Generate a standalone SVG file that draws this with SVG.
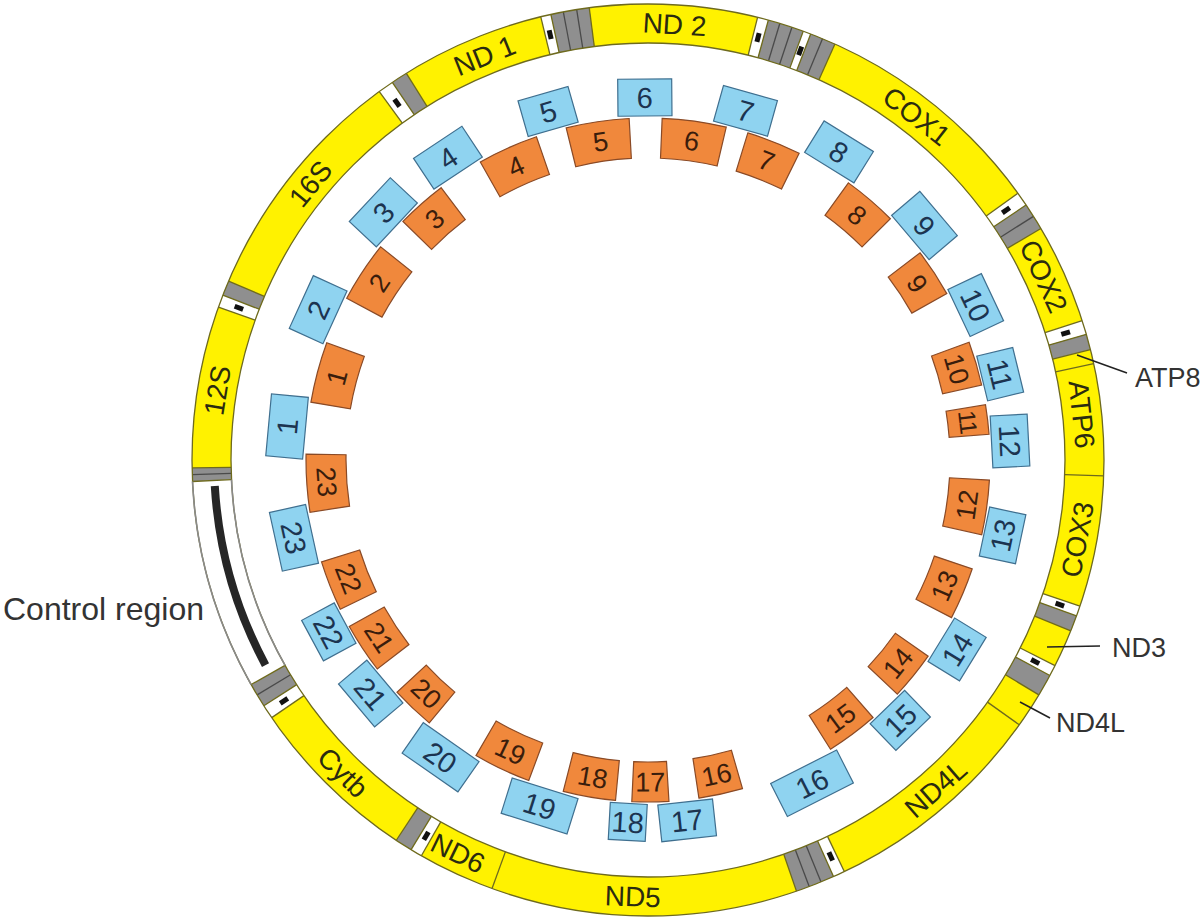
<svg xmlns="http://www.w3.org/2000/svg" width="1200" height="918" viewBox="0 0 1200 918">
<style>
.yl{fill:none;stroke:#fff200;stroke-width:39}
.gr{fill:none;stroke:#8f8f8f;stroke-width:39}
.wh{fill:none;stroke:#ffffff;stroke-width:39}
.ol{fill:none;stroke:#6e6a1e;stroke-width:1.3}
.cl{fill:none;stroke:#8a8a8a;stroke-width:1.6}
.dv{stroke:#6e6a1e;stroke-width:1.3}
.sp{stroke:#4a4a4a;stroke-width:1.3}
.bk{fill:#111111}
.b{fill:#8fd3f0;stroke:#3f6f8f;stroke-width:1.2}
.o{fill:#f0883c;stroke:#8a4a26;stroke-width:1.2}
.bt{font-family:'Liberation Sans',Arial,sans-serif;font-size:29px;fill:#1c3450;text-anchor:middle}
.ot{font-family:'Liberation Sans',Arial,sans-serif;font-size:27px;fill:#3a1d0c;text-anchor:middle}
.gt{font-family:'Liberation Sans',Arial,sans-serif;font-size:28px;fill:#2b2b10;text-anchor:middle}
.lb{font-family:'Liberation Sans',Arial,sans-serif;font-size:27px;fill:#333333}
.ld{stroke:#222222;stroke-width:1.5}
</style>
<defs>
<path id="o28" class="o" d="M633.13 118.32 A342 342 0 0 1 662.87 118.32 L661.13 158.29 A302 302 0 0 0 634.87 158.29 Z"/>
<path id="o35" class="o" d="M629.42 118.51 A342 342 0 0 1 666.58 118.51 L664.40 158.45 A302 302 0 0 0 631.60 158.45 Z"/>
<path id="o42" class="o" d="M625.71 118.73 A342 342 0 0 1 670.29 118.73 L667.68 158.64 A302 302 0 0 0 628.32 158.64 Z"/>
<path id="o46" class="o" d="M623.59 118.87 A342 342 0 0 1 672.41 118.87 L669.55 158.77 A302 302 0 0 0 626.45 158.77 Z"/>
<path id="o48" class="o" d="M622.53 118.95 A342 342 0 0 1 673.47 118.95 L670.49 158.84 A302 302 0 0 0 625.51 158.84 Z"/>
<path id="o50" class="o" d="M621.47 119.03 A342 342 0 0 1 674.53 119.03 L671.42 158.91 A302 302 0 0 0 624.58 158.91 Z"/>
<path id="o52" class="o" d="M620.41 119.12 A342 342 0 0 1 675.59 119.12 L672.36 158.98 A302 302 0 0 0 623.64 158.98 Z"/>
<path id="o55" class="o" d="M618.83 119.25 A342 342 0 0 1 677.17 119.25 L673.76 159.10 A302 302 0 0 0 622.24 159.10 Z"/>
<path id="o58" class="o" d="M617.24 119.39 A342 342 0 0 1 678.76 119.39 L675.16 159.22 A302 302 0 0 0 620.84 159.22 Z"/>
<path id="o60" class="o" d="M616.18 119.48 A342 342 0 0 1 679.82 119.48 L676.10 159.31 A302 302 0 0 0 619.90 159.31 Z"/>
<path id="o61" class="o" d="M615.65 119.53 A342 342 0 0 1 680.35 119.53 L676.56 159.35 A302 302 0 0 0 619.44 159.35 Z"/>
<rect id="mk" class="bk" x="645.5" y="19" width="5" height="9"/>
<line id="dl" class="dv" x1="648" y1="4" x2="648" y2="43"/>
<line id="sl" class="sp" x1="648" y1="4" x2="648" y2="43"/>
</defs>
<rect width="1200" height="918" fill="#ffffff"/>

<g id="ring">
<circle class="yl" cx="648" cy="460" r="436.5"/>
<circle class="gr" cx="648" cy="460" r="436.5" stroke-dasharray="12.95 3000" transform="rotate(177.3 648 460)"/>
<circle class="wh" cx="648" cy="460" r="436.5" stroke-dasharray="12.19 3000" transform="rotate(199.6 648 460)"/>
<circle class="gr" cx="648" cy="460" r="436.5" stroke-dasharray="14.47 3000" transform="rotate(201.2 648 460)"/>
<circle class="wh" cx="648" cy="460" r="436.5" stroke-dasharray="15.24 3000" transform="rotate(233.9 648 460)"/>
<circle class="gr" cx="648" cy="460" r="436.5" stroke-dasharray="16 3000" transform="rotate(235.9 648 460)"/>
<circle class="wh" cx="648" cy="460" r="436.5" stroke-dasharray="9.9 3000" transform="rotate(256.4 648 460)"/>
<circle class="gr" cx="648" cy="460" r="436.5" stroke-dasharray="37.33 3000" transform="rotate(257.7 648 460)"/>
<circle class="wh" cx="648" cy="460" r="436.5" stroke-dasharray="10.67 3000" transform="rotate(-76.1 648 460)"/>
<circle class="gr" cx="648" cy="460" r="436.5" stroke-dasharray="35.04 3000" transform="rotate(-74.7 648 460)"/>
<circle class="wh" cx="648" cy="460" r="436.5" stroke-dasharray="7.62 3000" transform="rotate(-70.1 648 460)"/>
<circle class="gr" cx="648" cy="460" r="436.5" stroke-dasharray="25.14 3000" transform="rotate(-69.1 648 460)"/>
<circle class="wh" cx="648" cy="460" r="436.5" stroke-dasharray="13.71 3000" transform="rotate(-35.8 648 460)"/>
<circle class="gr" cx="648" cy="460" r="436.5" stroke-dasharray="26.66 3000" transform="rotate(-34 648 460)"/>
<circle class="wh" cx="648" cy="460" r="436.5" stroke-dasharray="13.71 3000" transform="rotate(-17.8 648 460)"/>
<circle class="gr" cx="648" cy="460" r="436.5" stroke-dasharray="15.24 3000" transform="rotate(-16 648 460)"/>
<circle class="wh" cx="648" cy="460" r="436.5" stroke-dasharray="9.9 3000" transform="rotate(18.7 648 460)"/>
<circle class="gr" cx="648" cy="460" r="436.5" stroke-dasharray="15.24 3000" transform="rotate(20 648 460)"/>
<circle class="wh" cx="648" cy="460" r="436.5" stroke-dasharray="10.67 3000" transform="rotate(26.8 648 460)"/>
<circle class="gr" cx="648" cy="460" r="436.5" stroke-dasharray="21.33 3000" transform="rotate(28.2 648 460)"/>
<circle class="wh" cx="648" cy="460" r="436.5" stroke-dasharray="11.43 3000" transform="rotate(64.5 648 460)"/>
<circle class="gr" cx="648" cy="460" r="436.5" stroke-dasharray="38.09 3000" transform="rotate(66 648 460)"/>
<circle class="wh" cx="648" cy="460" r="436.5" stroke-dasharray="11.43 3000" transform="rotate(119.8 648 460)"/>
<circle class="gr" cx="648" cy="460" r="436.5" stroke-dasharray="16.76 3000" transform="rotate(121.3 648 460)"/>
<circle class="wh" cx="648" cy="460" r="436.5" stroke-dasharray="13.71 3000" transform="rotate(145.6 648 460)"/>
<circle class="gr" cx="648" cy="460" r="436.5" stroke-dasharray="23.62 3000" transform="rotate(147.4 648 460)"/>
<circle class="wh" cx="648" cy="460" r="436.5" stroke-dasharray="204.17 3000" transform="rotate(150.5 648 460)"/>
<circle fill="none" stroke="#262626" stroke-width="8" cx="648" cy="460" r="434" stroke-dasharray="187.5 3000" transform="rotate(151.8 648 460)"/>
<use href="#mk" transform="rotate(290.4 648 460)"/>
<use href="#mk" transform="rotate(324.9 648 460)"/>
<use href="#mk" transform="rotate(347.05 648 460)"/>
<use href="#mk" transform="rotate(14.6 648 460)"/>
<use href="#mk" transform="rotate(20.4 648 460)"/>
<use href="#mk" transform="rotate(55.1 648 460)"/>
<use href="#mk" transform="rotate(73.1 648 460)"/>
<use href="#mk" transform="rotate(109.35 648 460)"/>
<use href="#mk" transform="rotate(117.5 648 460)"/>
<use href="#mk" transform="rotate(155.25 648 460)"/>
<use href="#mk" transform="rotate(210.55 648 460)"/>
<use href="#mk" transform="rotate(236.5 648 460)"/>
<use href="#dl" transform="rotate(267.3 648 460)"/>
<use href="#dl" transform="rotate(269 648 460)"/>
<use href="#dl" transform="rotate(289.6 648 460)"/>
<use href="#dl" transform="rotate(291.2 648 460)"/>
<use href="#dl" transform="rotate(293.1 648 460)"/>
<use href="#dl" transform="rotate(323.9 648 460)"/>
<use href="#dl" transform="rotate(325.9 648 460)"/>
<use href="#dl" transform="rotate(328 648 460)"/>
<use href="#dl" transform="rotate(346.4 648 460)"/>
<use href="#dl" transform="rotate(347.7 648 460)"/>
<use href="#dl" transform="rotate(352.6 648 460)"/>
<use href="#dl" transform="rotate(13.9 648 460)"/>
<use href="#dl" transform="rotate(15.3 648 460)"/>
<use href="#dl" transform="rotate(19.9 648 460)"/>
<use href="#dl" transform="rotate(20.9 648 460)"/>
<use href="#dl" transform="rotate(24.2 648 460)"/>
<use href="#dl" transform="rotate(54.2 648 460)"/>
<use href="#dl" transform="rotate(56 648 460)"/>
<use href="#dl" transform="rotate(59.5 648 460)"/>
<use href="#dl" transform="rotate(72.2 648 460)"/>
<use href="#dl" transform="rotate(74 648 460)"/>
<use href="#dl" transform="rotate(76 648 460)"/>
<use href="#dl" transform="rotate(77.8 648 460)"/>
<use href="#dl" transform="rotate(92 648 460)"/>
<use href="#dl" transform="rotate(108.7 648 460)"/>
<use href="#dl" transform="rotate(110 648 460)"/>
<use href="#dl" transform="rotate(112 648 460)"/>
<use href="#dl" transform="rotate(116.8 648 460)"/>
<use href="#dl" transform="rotate(118.2 648 460)"/>
<use href="#dl" transform="rotate(121 648 460)"/>
<use href="#dl" transform="rotate(125.5 648 460)"/>
<use href="#dl" transform="rotate(154.5 648 460)"/>
<use href="#dl" transform="rotate(156 648 460)"/>
<use href="#dl" transform="rotate(161 648 460)"/>
<use href="#dl" transform="rotate(200 648 460)"/>
<use href="#dl" transform="rotate(209.8 648 460)"/>
<use href="#dl" transform="rotate(211.3 648 460)"/>
<use href="#dl" transform="rotate(213.5 648 460)"/>
<use href="#dl" transform="rotate(235.6 648 460)"/>
<use href="#dl" transform="rotate(237.4 648 460)"/>
<use href="#dl" transform="rotate(240.5 648 460)"/>
<use href="#sl" transform="rotate(268.15 648 460)"/>
<use href="#sl" transform="rotate(349.3 648 460)"/>
<use href="#sl" transform="rotate(351 648 460)"/>
<use href="#sl" transform="rotate(16.8 648 460)"/>
<use href="#sl" transform="rotate(18.4 648 460)"/>
<use href="#sl" transform="rotate(22.5 648 460)"/>
<use href="#sl" transform="rotate(57.7 648 460)"/>
<use href="#sl" transform="rotate(157.7 648 460)"/>
<use href="#sl" transform="rotate(159.3 648 460)"/>
<use href="#sl" transform="rotate(239 648 460)"/>
<circle class="ol" cx="648" cy="460" r="456"/>
<circle class="ol" cx="648" cy="460" r="417"/>
<circle class="cl" cx="648" cy="460" r="456" stroke-dasharray="213.29 3000" transform="rotate(150.5 648 460)"/>
<circle class="cl" cx="648" cy="460" r="417" stroke-dasharray="195.05 3000" transform="rotate(150.5 648 460)"/>
</g>

<g id="gene-12S"><text class="gt" x="648" y="33.5" transform="rotate(279.2 648 460)">12S</text></g>
<g id="gene-16S"><text class="gt" x="648" y="33.5" transform="rotate(309.3 648 460)">16S</text></g>
<g id="gene-ND1"><text class="gt" x="648" y="33.5" transform="rotate(338 648 460)">ND 1</text></g>
<g id="gene-ND2"><text class="gt" x="648" y="33.5" transform="rotate(3.5 648 460)">ND 2</text></g>
<g id="gene-COX1"><text class="gt" x="648" y="33.5" transform="rotate(38 648 460)">COX1</text></g>
<g id="gene-COX2"><text class="gt" x="648" y="33.5" transform="rotate(65.1 648 460)">COX2</text></g>
<g id="gene-ATP8"><text class="lb" x="1135" y="387">ATP8</text></g>
<g id="gene-ATP6"><text class="gt" x="648" y="33.5" transform="rotate(84 648 460)">ATP6</text></g>
<g id="gene-COX3"><text class="gt" x="648" y="33.5" transform="rotate(100.5 648 460) rotate(180 648 23.5)">COX3</text></g>
<g id="gene-ND3"><text class="lb" x="1112" y="657">ND3</text></g>
<g id="gene-ND4L-outer"><text class="lb" x="1056" y="732">ND4L</text></g>
<g id="gene-ND4L"><text class="gt" x="648" y="33.5" transform="rotate(138.8 648 460) rotate(180 648 23.5)">ND4L</text></g>
<g id="gene-ND5"><text class="gt" x="648" y="33.5" transform="rotate(182 648 460) rotate(180 648 23.5)">ND5</text></g>
<g id="gene-ND6"><text class="gt" x="648" y="33.5" transform="rotate(205.8 648 460) rotate(180 648 23.5)">ND6</text></g>
<g id="gene-Cytb"><text class="gt" x="648" y="33.5" transform="rotate(224.3 648 460) rotate(180 648 23.5)">Cytb</text></g>
<g id="control-region"><text class="lb" x="3" y="620" style="font-size:32px">Control region</text></g>

<g id="connectors">
<line class="ld" x1="1077" y1="355" x2="1127" y2="373"/>
<line class="ld" x1="1047" y1="647" x2="1100" y2="646"/>
<line class="ld" x1="1020" y1="702" x2="1050" y2="718"/>
</g>

<g id="blue-1"><rect class="b" x="617" y="79" width="62" height="37" transform="rotate(275.3 648 460)"/><text class="bt" x="648" y="108" transform="rotate(275.3 648 460)">1</text></g>
<g id="blue-2"><rect class="b" x="619" y="79" width="58" height="37" transform="rotate(294.5 648 460)"/><text class="bt" x="648" y="108" transform="rotate(294.5 648 460)">2</text></g>
<g id="blue-3"><rect class="b" x="618" y="79" width="60" height="37" transform="rotate(313.1 648 460)"/><text class="bt" x="648" y="108" transform="rotate(313.1 648 460)">3</text></g>
<g id="blue-4"><rect class="b" x="619" y="79" width="58" height="37" transform="rotate(326.5 648 460)"/><text class="bt" x="648" y="108" transform="rotate(326.5 648 460)">4</text></g>
<g id="blue-5"><rect class="b" x="622" y="79" width="52" height="37" transform="rotate(344 648 460)"/><text class="bt" x="648" y="108" transform="rotate(344 648 460)">5</text></g>
<g id="blue-6"><rect class="b" x="621" y="79" width="54" height="37" transform="rotate(359.5 648 460)"/><text class="bt" x="648" y="108" transform="rotate(359.5 648 460)">6</text></g>
<g id="blue-7"><rect class="b" x="620" y="79" width="56" height="37" transform="rotate(15.6 648 460)"/><text class="bt" x="648" y="108" transform="rotate(15.6 648 460)">7</text></g>
<g id="blue-8"><rect class="b" x="619" y="79" width="58" height="37" transform="rotate(31.8 648 460)"/><text class="bt" x="648" y="108" transform="rotate(31.8 648 460)">8</text></g>
<g id="blue-9"><rect class="b" x="619" y="79" width="58" height="37" transform="rotate(49.7 648 460)"/><text class="bt" x="648" y="108" transform="rotate(49.7 648 460)">9</text></g>
<g id="blue-10"><rect class="b" x="622" y="79" width="52" height="37" transform="rotate(64.7 648 460)"/><text class="bt" x="648" y="108" transform="rotate(64.7 648 460)">10</text></g>
<g id="blue-11"><rect class="b" x="625" y="79" width="46" height="37" transform="rotate(76.3 648 460)"/><text class="bt" x="648" y="108" transform="rotate(76.3 648 460)">11</text></g>
<g id="blue-12"><rect class="b" x="622" y="79" width="52" height="37" transform="rotate(87 648 460)"/><text class="bt" x="648" y="108" transform="rotate(87 648 460)">12</text></g>
<g id="blue-13"><rect class="b" x="623" y="79" width="50" height="37" transform="rotate(102 648 460)"/><text class="bt" x="648" y="108" transform="rotate(102 648 460) rotate(180 648 97.5)">13</text></g>
<g id="blue-14"><rect class="b" x="622.5" y="79" width="51" height="37" transform="rotate(121.5 648 460)"/><text class="bt" x="648" y="108" transform="rotate(121.5 648 460) rotate(180 648 97.5)">14</text></g>
<g id="blue-15"><rect class="b" x="624" y="79" width="48" height="37" transform="rotate(135.9 648 460)"/><text class="bt" x="648" y="108" transform="rotate(135.9 648 460) rotate(180 648 97.5)">15</text></g>
<g id="blue-16"><rect class="b" x="611" y="79" width="74" height="37" transform="rotate(153.1 648 460)"/><text class="bt" x="648" y="108" transform="rotate(153.1 648 460) rotate(180 648 97.5)">16</text></g>
<g id="blue-17"><rect class="b" x="620.5" y="79" width="55" height="37" transform="rotate(173.8 648 460)"/><text class="bt" x="648" y="108" transform="rotate(173.8 648 460) rotate(180 648 97.5)">17</text></g>
<g id="blue-18"><rect class="b" x="629.5" y="79" width="37" height="37" transform="rotate(183.2 648 460)"/><text class="bt" x="648" y="108" transform="rotate(183.2 648 460) rotate(180 648 97.5)">18</text></g>
<g id="blue-19"><rect class="b" x="613.5" y="79" width="69" height="37" transform="rotate(197.4 648 460)"/><text class="bt" x="648" y="108" transform="rotate(197.4 648 460) rotate(180 648 97.5)">19</text></g>
<g id="blue-20"><rect class="b" x="614" y="79" width="68" height="37" transform="rotate(214.9 648 460)"/><text class="bt" x="648" y="108" transform="rotate(214.9 648 460) rotate(180 648 97.5)">20</text></g>
<g id="blue-21"><rect class="b" x="620" y="79" width="56" height="37" transform="rotate(229.9 648 460)"/><text class="bt" x="648" y="108" transform="rotate(229.9 648 460) rotate(180 648 97.5)">21</text></g>
<g id="blue-22"><rect class="b" x="625" y="79" width="46" height="37" transform="rotate(241.7 648 460)"/><text class="bt" x="648" y="108" transform="rotate(241.7 648 460) rotate(180 648 97.5)">22</text></g>
<g id="blue-23"><rect class="b" x="618" y="79" width="60" height="37" transform="rotate(257.6 648 460)"/><text class="bt" x="648" y="108" transform="rotate(257.6 648 460) rotate(180 648 97.5)">23</text></g>

<g id="orange-1"><use href="#o58" transform="rotate(284.9 648 460)"/><text class="ot" x="648" y="147.5" transform="rotate(284.9 648 460)">1</text></g>
<g id="orange-2"><use href="#o58" transform="rotate(303.4 648 460)"/><text class="ot" x="648" y="147.5" transform="rotate(303.4 648 460)">2</text></g>
<g id="orange-3"><use href="#o48" transform="rotate(318.5 648 460)"/><text class="ot" x="648" y="147.5" transform="rotate(318.5 648 460)">3</text></g>
<g id="orange-4"><use href="#o58" transform="rotate(335.8 648 460)"/><text class="ot" x="648" y="147.5" transform="rotate(335.8 648 460)">4</text></g>
<g id="orange-5"><use href="#o60" transform="rotate(351.5 648 460)"/><text class="ot" x="648" y="147.5" transform="rotate(351.5 648 460)">5</text></g>
<g id="orange-6"><use href="#o61" transform="rotate(7.8 648 460)"/><text class="ot" x="648" y="147.5" transform="rotate(7.8 648 460)">6</text></g>
<g id="orange-7"><use href="#o52" transform="rotate(21.6 648 460)"/><text class="ot" x="648" y="147.5" transform="rotate(21.6 648 460)">7</text></g>
<g id="orange-8"><use href="#o52" transform="rotate(40.5 648 460)"/><text class="ot" x="648" y="147.5" transform="rotate(40.5 648 460)">8</text></g>
<g id="orange-9"><use href="#o46" transform="rotate(56.8 648 460)"/><text class="ot" x="648" y="147.5" transform="rotate(56.8 648 460)">9</text></g>
<g id="orange-10"><use href="#o42" transform="rotate(73.6 648 460)"/><text class="ot" x="648" y="147.5" transform="rotate(73.6 648 460)">10</text></g>
<g id="orange-11"><use href="#o28" transform="rotate(83.2 648 460)"/><text class="ot" x="648" y="146.5" style="font-size:24px;letter-spacing:-1px" transform="rotate(83.2 648 460)">11</text></g>
<g id="orange-12"><use href="#o52" transform="rotate(98 648 460)"/><text class="ot" x="648" y="147.5" transform="rotate(98 648 460) rotate(180 648 138)">12</text></g>
<g id="orange-13"><use href="#o50" transform="rotate(113 648 460)"/><text class="ot" x="648" y="147.5" transform="rotate(113 648 460) rotate(180 648 138)">13</text></g>
<g id="orange-14"><use href="#o46" transform="rotate(129.1 648 460)"/><text class="ot" x="648" y="147.5" transform="rotate(129.1 648 460) rotate(180 648 138)">14</text></g>
<g id="orange-15"><use href="#o50" transform="rotate(143.3 648 460)"/><text class="ot" x="648" y="147.5" transform="rotate(143.3 648 460) rotate(180 648 138)">15</text></g>
<g id="orange-16"><use href="#o42" transform="rotate(167.7 648 460)"/><text class="ot" x="648" y="147.5" transform="rotate(167.7 648 460) rotate(180 648 138)">16</text></g>
<g id="orange-17"><use href="#o35" transform="rotate(179.6 648 460)"/><text class="ot" x="648" y="147.5" transform="rotate(179.6 648 460) rotate(180 648 138)">17</text></g>
<g id="orange-18"><use href="#o50" transform="rotate(189.9 648 460)"/><text class="ot" x="648" y="147.5" transform="rotate(189.9 648 460) rotate(180 648 138)">18</text></g>
<g id="orange-19"><use href="#o55" transform="rotate(205.3 648 460)"/><text class="ot" x="648" y="147.5" transform="rotate(205.3 648 460) rotate(180 648 138)">19</text></g>
<g id="orange-20"><use href="#o42" transform="rotate(223.5 648 460)"/><text class="ot" x="648" y="147.5" transform="rotate(223.5 648 460) rotate(180 648 138)">20</text></g>
<g id="orange-21"><use href="#o48" transform="rotate(236.6 648 460)"/><text class="ot" x="648" y="147.5" transform="rotate(236.6 648 460) rotate(180 648 138)">21</text></g>
<g id="orange-22"><use href="#o48" transform="rotate(248.4 648 460)"/><text class="ot" x="648" y="147.5" transform="rotate(248.4 648 460) rotate(180 648 138)">22</text></g>
<g id="orange-23"><use href="#o55" transform="rotate(266.1 648 460)"/><text class="ot" x="648" y="147.5" transform="rotate(266.1 648 460) rotate(180 648 138)">23</text></g>
</svg>
